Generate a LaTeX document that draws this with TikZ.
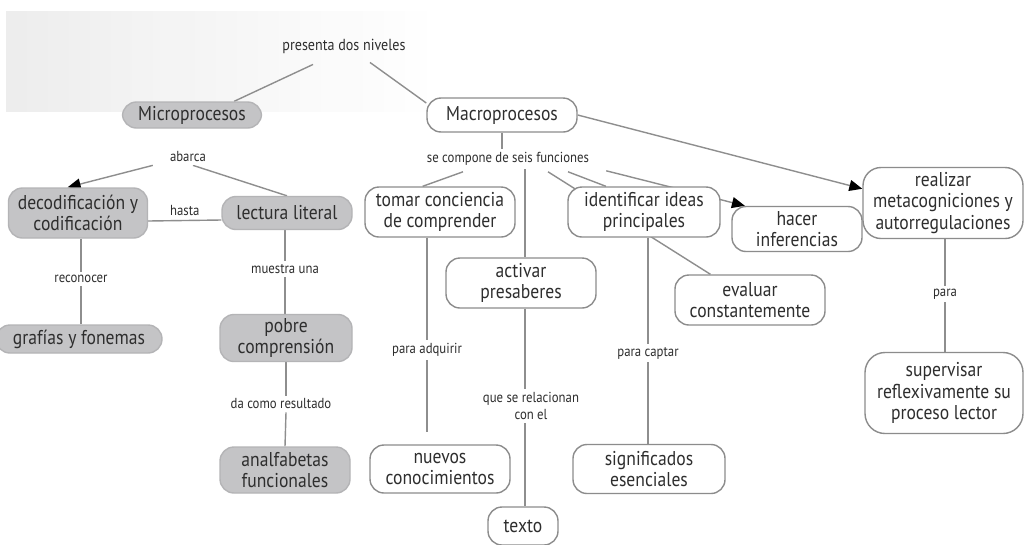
\documentclass[tikz,border=0pt]{standalone}
\usepackage{fontspec}
\setmainfont{PT Sans}[FakeStretch=0.88]
\usetikzlibrary{arrows.meta}
\pgfdeclarelayer{bg}
\pgfdeclarelayer{paper}
\pgfsetlayers{paper,bg,main}
\definecolor{linec}{HTML}{8E8E8E}
\definecolor{boxline}{HTML}{8C8C8C}
\definecolor{gfill}{HTML}{C4C4C6}
\definecolor{txt}{HTML}{2E2E2E}
\tikzset{
  box/.style={draw=boxline, line width=1.4pt, fill=white, rounded corners=14pt,
    align=center, text=txt, font=\fontsize{20}{21.5}\selectfont, inner sep=0pt},
  gbox/.style={box, fill=gfill, draw=gfill!92!black},
  lbl/.style={fill=white, text=txt, font=\fontsize{14.5}{17}\selectfont, inner sep=3pt, align=center},
  conn/.style={draw=linec, line width=1.4pt},
  arr/.style={conn, -{Triangle[length=13pt,width=11pt,color=black]}},
}
\begin{document}
\begin{tikzpicture}[x=1pt,y=-1pt]
\useasboundingbox (0,0) rectangle (1024,544);
\begin{pgfonlayer}{paper}
\fill[white] (0,0) rectangle (1024,544);
\foreach \i in {0,...,19}{
  \pgfmathsetmacro{\pc}{7*(1-\i/20)}
  \fill[black!\pc] (6+\i*21,11) rectangle (6+\i*21+21.5,112);
}
\end{pgfonlayer}

% nodes
\node[lbl, font=\fontsize{16}{18}\selectfont, fill=none] (pres) at (344,46) {presenta dos niveles};
\node[gbox, minimum width=139pt, minimum height=26pt] (micro) at (192,115) {Microprocesos};
\node[box, minimum width=150pt, minimum height=34pt] (macro) at (502,115) {Macroprocesos};
\node[lbl] (abarca) at (188,157) {abarca};
\node[lbl] (compone) at (508,159) {se compone de seis funciones};

\node[gbox, minimum width=139pt, minimum height=50pt] (decod) at (78,213) {decodificación y\\codificación};
\node[gbox, minimum width=130pt, minimum height=33pt] (lectura) at (287,213) {lectura literal};
\node[lbl] (recon) at (81,279) {reconocer};
\node[gbox, minimum width=166pt, minimum height=28pt] (grafias) at (79,339) {grafías y fonemas};
\node[lbl] (muestra) at (285,269) {muestra una};
\node[gbox, minimum width=132pt, minimum height=47pt] (pobre) at (286,338) {pobre\\comprensión};
\node[lbl] (dacomo) at (281,404) {da como resultado};
\node[gbox, minimum width=130pt, minimum height=46pt] (analf) at (285,470) {analfabetas\\funcionales};

\node[box, minimum width=150pt, minimum height=50pt] (tomar) at (440,212) {tomar conciencia\\de comprender};
\node[lbl] (adq) at (427,350) {para adquirir};
\node[box, minimum width=140pt, minimum height=48pt] (nuevos) at (440,469) {nuevos\\conocimientos};

\node[box, minimum width=150pt, minimum height=50pt] (activar) at (521,283) {activar\\presaberes};
\node[lbl] (relac) at (531,406) {que se relacionan\\con el};
\node[box, minimum width=70pt, minimum height=38pt] (texto) at (523,526) {texto};

\node[box, minimum width=152pt, minimum height=50pt] (ident) at (644,212) {identificar ideas\\principales};
\node[lbl] (captar) at (648,353) {para captar};
\node[box, minimum width=152pt, minimum height=49pt] (signif) at (649,469) {significados\\esenciales};

\node[box, minimum width=150pt, minimum height=50pt] (evaluar) at (750,300) {evaluar\\constantemente};
\node[box, minimum width=130pt, minimum height=45pt] (hacer) at (797,229) {hacer\\inferencias};

\node[box, minimum width=160pt, minimum height=71pt, rounded corners=18pt] (realizar) at (943,203) {realizar\\metacogniciones y\\autorregulaciones};
\node[lbl] (para) at (945,294) {para};
\node[box, minimum width=158pt, minimum height=81pt, rounded corners=20pt] (superv) at (944,393) {supervisar\\reflexivamente su\\proceso lector};

% connectors
\begin{pgfonlayer}{bg}
\draw[conn] ([xshift=-31pt,yshift=-8pt]pres.south) -- (micro.18);
\draw[conn] ([xshift=26pt,yshift=-6pt]pres.south) -- (macro.171);
\draw[arr] (macro.east) -- (realizar.170);
\draw[conn] (macro.south) -- (macro.south |- compone.north);

\draw[conn] ([xshift=-45pt,yshift=-3pt]compone.south) -- (tomar.124);
\coordinate (actop) at ([xshift=4pt]activar.north);
\draw[conn] (actop |- compone.south) -- (actop);
\draw[conn] ([xshift=40pt,yshift=-3pt]compone.south) -- (evaluar.147);
\draw[conn] ([xshift=60pt,yshift=-3pt]compone.south) -- (ident.146);
\draw[arr] ([xshift=14pt,yshift=-2pt]compone.south east) -- (hacer.156);

\draw[arr] ([xshift=-14pt]abarca.south west) -- (decod.112);
\draw[conn] ([xshift=5pt]abarca.south) -- (lectura.north);
\draw[conn] ([yshift=-8pt]decod.east) -- ([yshift=-7pt]lectura.west)
  node[lbl, fill=none, midway, above=1pt] (hasta) {hasta};

\draw[conn] (decod.south -| recon.north) -- (recon.north);
\draw[conn] (recon.south) -- (recon.south |- grafias.north);
\draw[conn] (lectura.south -| muestra.north) -- (muestra.north);
\draw[conn] (muestra.south) -- (muestra.south |- pobre.north);
\draw[conn] (pobre.south) -- (pobre.south |- dacomo.north);
\draw[conn] (dacomo.south -| pobre.south) -- (analf.north);

\draw[conn] (tomar.south -| adq.north) -- (adq.north);
\draw[conn, shorten >=12pt] (adq.south) -- (adq.south |- nuevos.north);
\draw[conn] (activar.south -| actop) -- (relac.north -| actop);
\draw[conn] (relac.south -| actop) -- (texto.north -| actop);
\draw[conn] (ident.south -| captar.north) -- (captar.north);
\draw[conn] (captar.south) -- (captar.south |- signif.north);
\draw[conn] (realizar.south -| para.north) -- (para.north);
\draw[conn] (para.south) -- (para.south |- superv.north);
\end{pgfonlayer}
\end{tikzpicture}
\end{document}
